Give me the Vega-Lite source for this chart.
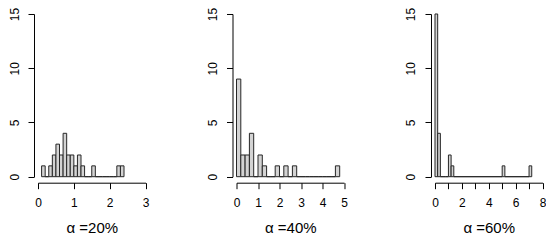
{
  "$schema": "https://vega.github.io/schema/vega-lite/v6.json",
  "padding": {"left": 8, "top": 7, "right": 0, "bottom": 0},
  "bounds": "flush",
  "spacing": 90.5,
  "config": {
    "view": {"stroke": null},
    "font": "Liberation Sans",
    "axis": {
      "grid": false,
      "domainColor": "#000000",
      "tickColor": "#000000",
      "labelColor": "#000000",
      "titleColor": "#000000",
      "labelFont": "Liberation Sans",
      "titleFont": "Liberation Sans",
      "labelFontSize": 12,
      "titleFontSize": 15,
      "titleFontWeight": "normal",
      "tickSize": 6,
      "labelFlush": false,
      "labelOverlap": false
    },
    "axisX": {"offset": 6, "labelPadding": 9, "titlePadding": 12},
    "axisY": {"offset": 4, "labelAngle": 270, "labelAlign": "center", "labelBaseline": "bottom", "labelPadding": 7}
  },
  "datasets": {
    "a20": [
      {"start": 0.1, "end": 0.2, "count": 1},
      {"start": 0.2, "end": 0.3, "count": 0},
      {"start": 0.3, "end": 0.4, "count": 1},
      {"start": 0.4, "end": 0.5, "count": 2},
      {"start": 0.5, "end": 0.6, "count": 3},
      {"start": 0.6, "end": 0.7, "count": 2},
      {"start": 0.7, "end": 0.8, "count": 4},
      {"start": 0.8, "end": 0.9, "count": 2},
      {"start": 0.9, "end": 1.0, "count": 2},
      {"start": 1.0, "end": 1.1, "count": 1},
      {"start": 1.1, "end": 1.2, "count": 2},
      {"start": 1.2, "end": 1.3, "count": 1},
      {"start": 1.3, "end": 1.4, "count": 0},
      {"start": 1.4, "end": 1.5, "count": 0},
      {"start": 1.5, "end": 1.6, "count": 1},
      {"start": 1.6, "end": 1.7, "count": 0},
      {"start": 1.7, "end": 1.8, "count": 0},
      {"start": 1.8, "end": 1.9, "count": 0},
      {"start": 1.9, "end": 2.0, "count": 0},
      {"start": 2.0, "end": 2.1, "count": 0},
      {"start": 2.1, "end": 2.2, "count": 0},
      {"start": 2.2, "end": 2.3, "count": 1},
      {"start": 2.3, "end": 2.4, "count": 1}
    ],
    "a40": [
      {"start": 0.0, "end": 0.2, "count": 9},
      {"start": 0.2, "end": 0.4, "count": 2},
      {"start": 0.4, "end": 0.6, "count": 2},
      {"start": 0.6, "end": 0.8, "count": 4},
      {"start": 0.8, "end": 1.0, "count": 0},
      {"start": 1.0, "end": 1.2, "count": 2},
      {"start": 1.2, "end": 1.4, "count": 1},
      {"start": 1.4, "end": 1.6, "count": 0},
      {"start": 1.6, "end": 1.8, "count": 0},
      {"start": 1.8, "end": 2.0, "count": 1},
      {"start": 2.0, "end": 2.2, "count": 0},
      {"start": 2.2, "end": 2.4, "count": 1},
      {"start": 2.4, "end": 2.6, "count": 0},
      {"start": 2.6, "end": 2.8, "count": 1},
      {"start": 2.8, "end": 3.0, "count": 0},
      {"start": 3.0, "end": 3.2, "count": 0},
      {"start": 3.2, "end": 3.4, "count": 0},
      {"start": 3.4, "end": 3.6, "count": 0},
      {"start": 3.6, "end": 3.8, "count": 0},
      {"start": 3.8, "end": 4.0, "count": 0},
      {"start": 4.0, "end": 4.2, "count": 0},
      {"start": 4.2, "end": 4.4, "count": 0},
      {"start": 4.4, "end": 4.6, "count": 0},
      {"start": 4.6, "end": 4.8, "count": 1}
    ],
    "a60": [
      {"start": 0.0, "end": 0.2, "count": 15},
      {"start": 0.2, "end": 0.4, "count": 4},
      {"start": 0.4, "end": 0.6, "count": 0},
      {"start": 0.6, "end": 0.8, "count": 0},
      {"start": 0.8, "end": 1.0, "count": 0},
      {"start": 1.0, "end": 1.2, "count": 2},
      {"start": 1.2, "end": 1.4, "count": 1},
      {"start": 1.4, "end": 5.0, "count": 0},
      {"start": 5.0, "end": 5.2, "count": 1},
      {"start": 5.2, "end": 7.0, "count": 0},
      {"start": 7.0, "end": 7.2, "count": 1}
    ]
  },
  "hconcat": [
    {
      "width": 107.5,
      "height": 162.7,
      "data": {"name": "a20"},
      "mark": {"type": "rect", "fill": "#d3d3d3", "stroke": "#262626", "strokeWidth": 1},
      "encoding": {
        "x": {"field": "start", "type": "quantitative", "scale": {"domain": [0, 3], "nice": false, "zero": false},
              "axis": {"values": [0, 1, 2, 3], "title": "α =20%"}},
        "x2": {"field": "end"},
        "y": {"field": "count", "type": "quantitative", "scale": {"domain": [0, 15], "nice": false}, "axis": {"title": null, "values": [0, 5, 10, 15]}},
        "y2": {"datum": 0}
      }
    },
    {
      "width": 107.5,
      "height": 162.7,
      "data": {"name": "a40"},
      "mark": {"type": "rect", "fill": "#d3d3d3", "stroke": "#262626", "strokeWidth": 1},
      "encoding": {
        "x": {"field": "start", "type": "quantitative", "scale": {"domain": [0, 5], "nice": false, "zero": false},
              "axis": {"values": [0, 1, 2, 3, 4, 5], "title": "α =40%"}},
        "x2": {"field": "end"},
        "y": {"field": "count", "type": "quantitative", "scale": {"domain": [0, 15], "nice": false}, "axis": {"title": null, "values": [0, 5, 10, 15]}},
        "y2": {"datum": 0}
      }
    },
    {
      "width": 107.5,
      "height": 162.7,
      "data": {"name": "a60"},
      "mark": {"type": "rect", "fill": "#d3d3d3", "stroke": "#262626", "strokeWidth": 1},
      "encoding": {
        "x": {"field": "start", "type": "quantitative", "scale": {"domain": [0, 8], "nice": false, "zero": false},
              "axis": {"values": [0, 1, 2, 3, 4, 5, 6, 7, 8], "labelExpr": "datum.value % 2 == 0 ? datum.label : ''", "title": "α =60%"}},
        "x2": {"field": "end"},
        "y": {"field": "count", "type": "quantitative", "scale": {"domain": [0, 15], "nice": false}, "axis": {"title": null, "values": [0, 5, 10, 15]}},
        "y2": {"datum": 0}
      }
    }
  ]
}
